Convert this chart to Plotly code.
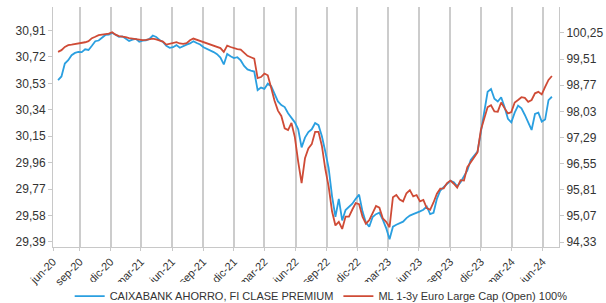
import plotly.graph_objects as go
import pandas as pd

# ---- data ----
start_date = "2020-06-29"
step = "10D"

fund_name = "CAIXABANK AHORRO, FI CLASE PREMIUM"
fund_values = [
    30.554, 30.58, 30.673, 30.697, 30.733, 30.749, 30.757, 30.755, 30.775, 30.77,
    30.80, 30.833, 30.838, 30.86, 30.878, 30.881, 30.892, 30.88, 30.865, 30.868,
    30.85, 30.835, 30.845, 30.85, 30.83, 30.838, 30.84, 30.85, 30.874, 30.864,
    30.842, 30.828, 30.80, 30.786, 30.79, 30.805, 30.786,
    30.80, 30.808, 30.817, 30.833, 30.82, 30.81, 30.79, 30.78, 30.77, 30.755,
    30.74, 30.715, 30.666, 30.742, 30.725, 30.712, 30.718, 30.695, 30.655, 30.63,
    30.622, 30.615, 30.482, 30.50, 30.49, 30.528, 30.51, 30.458, 30.40, 30.374,
    30.36, 30.315, 30.285, 30.25, 30.20, 30.07,
    30.14, 30.18, 30.20, 30.245, 30.23, 30.15, 30.04, 29.92, 29.72, 29.57,
    29.70, 29.545, 29.62, 29.64, 29.665, 29.70, 29.73, 29.61, 29.53, 29.50,
    29.57, 29.59, 29.60, 29.55, 29.49, 29.41, 29.50, 29.514, 29.526, 29.536,
    29.562, 29.58, 29.59, 29.598, 29.61, 29.622, 29.645,
    29.59, 29.60, 29.70, 29.76, 29.785, 29.81, 29.83, 29.82, 29.79, 29.82,
    29.86, 29.905, 29.98, 30.01, 30.04, 30.18, 30.34, 30.47, 30.49, 30.42,
    30.40, 30.43, 30.36, 30.275, 30.25, 30.32, 30.37, 30.35, 30.303, 30.243,
    30.195, 30.31, 30.32, 30.255, 30.27, 30.41, 30.434,
]

index_name = "ML 1-3y Euro Large Cap (Open) 100%"
index_values = [
    99.713, 99.761, 99.854, 99.902, 99.915, 99.93, 99.95, 99.97, 99.985, 100.015,
    100.10, 100.14, 100.184, 100.20, 100.215, 100.23, 100.27, 100.20, 100.16, 100.15,
    100.13, 100.105, 100.09, 100.07, 100.045, 100.043, 100.05, 100.065, 100.09, 100.065,
    100.04, 100.005, 99.92, 99.94, 99.97, 99.99, 99.95,
    99.94, 99.96, 100.04, 100.09, 100.055, 100.02, 99.995, 99.96, 99.93, 99.90,
    99.865, 99.82, 99.713, 99.89, 99.85, 99.81, 99.79, 99.78, 99.68, 99.60,
    99.56, 99.52, 98.97, 99.00, 99.10, 99.05, 98.70, 98.33, 98.05, 97.90,
    97.55, 97.50, 97.70, 97.30, 96.60, 96.00,
    96.70, 96.98, 97.10, 97.45, 97.45, 97.05, 96.40, 95.90, 95.20, 94.80,
    94.90, 94.70, 95.05, 95.05, 95.25, 95.43, 95.40, 95.05, 94.85, 94.95,
    95.15, 95.35, 95.30, 95.00, 94.90, 94.75, 95.60, 95.66, 95.53, 95.48,
    95.71, 95.80, 95.62, 95.66, 95.48, 95.52, 95.29,
    95.24, 95.45, 95.70, 95.84, 95.85, 96.00, 96.07, 95.98, 95.87, 96.08,
    96.07, 96.45, 96.58, 96.72, 96.87, 97.50, 97.80, 98.15, 98.20, 98.03,
    98.02, 98.28, 98.12, 97.97, 98.01, 98.28, 98.35, 98.43, 98.41, 98.30,
    98.35, 98.54, 98.58, 98.51, 98.72, 98.92, 99.03,
]

x_tick_dates = ["2020-06-14", "2020-09-01", "2020-12-01", "2021-03-01", "2021-06-01",
                "2021-09-01", "2021-12-01", "2022-03-01", "2022-06-01", "2022-09-01",
                "2022-12-01", "2023-03-01", "2023-06-01", "2023-09-01", "2023-12-01",
                "2024-03-01", "2024-06-01"]
x_tick_labels = ["jun-20", "sep-20", "dic-20", "mar-21", "jun-21", "sep-21", "dic-21",
                 "mar-22", "jun-22", "sep-22", "dic-22", "mar-23", "jun-23", "sep-23",
                 "dic-23", "mar-24", "jun-24"]
left_ticks = [29.39, 29.58, 29.77, 29.96, 30.15, 30.34, 30.53, 30.72, 30.91]
right_ticks = [94.33, 95.07, 95.81, 96.55, 97.29, 98.03, 98.77, 99.51, 100.25]

# ---- figure ----
dates = pd.date_range(start_date, periods=len(fund_values), freq=step)

def fmt(v):
    return f"{v:.2f}".replace(".", ",")

BLUE = "#2a9fe0"
RED = "#cf4b36"
AXIS = "#c8c8c8"
GRID = "#cccccc"
TXT = "#333333"
FONT = "Liberation Sans, Arial, sans-serif"

fig = go.Figure()
fig.add_trace(go.Scatter(x=dates, y=index_values, name=index_name, mode="lines",
                         line=dict(color=RED, width=1.8), yaxis="y2", legendrank=2))
fig.add_trace(go.Scatter(x=dates, y=fund_values, name=fund_name, mode="lines",
                         line=dict(color=BLUE, width=1.8), yaxis="y", legendrank=1))

fig.update_layout(
    width=606, height=303,
    margin=dict(l=53, r=47, t=7, b=56, autoexpand=False),
    paper_bgcolor="white", plot_bgcolor="white",
    font=dict(family=FONT, color=TXT, size=11),
    showlegend=True,
    legend=dict(orientation="h", x=0.53, xanchor="center",
                yref="container", y=0.023, yanchor="middle",
                font=dict(size=11, color=TXT), itemwidth=30, tracegroupgap=0),
    xaxis=dict(type="date", range=["2020-06-14", "2024-07-19"],
               tickmode="array", tickvals=x_tick_dates, ticktext=x_tick_labels,
               tickangle=-45, tickfont=dict(size=11, color=TXT),
               showgrid=True, gridcolor=GRID, gridwidth=1.5,
               showline=True, linecolor=AXIS, linewidth=1,
               ticks="outside", ticklen=3, tickcolor=AXIS, zeroline=False),
    yaxis=dict(range=[29.354, 31.079], tickmode="array", tickvals=left_ticks,
               ticktext=[fmt(v) for v in left_ticks], tickfont=dict(size=12, color=TXT),
               showgrid=False, showline=True, linecolor=AXIS, linewidth=1,
               ticks="outside", ticklen=4, tickcolor=AXIS, zeroline=False),
    yaxis2=dict(range=[94.189, 100.983], overlaying="y", side="right",
                tickmode="array", tickvals=right_ticks,
                ticktext=[fmt(v) for v in right_ticks], tickfont=dict(size=12, color=TXT),
                showgrid=False, showline=True, linecolor=AXIS, linewidth=1,
                ticks="outside", ticklen=4, tickcolor=AXIS, zeroline=False),
)

fig.write_html("out.html", config={"displayModeBar": False},
               post_script="document.body.style.margin='0px';")
